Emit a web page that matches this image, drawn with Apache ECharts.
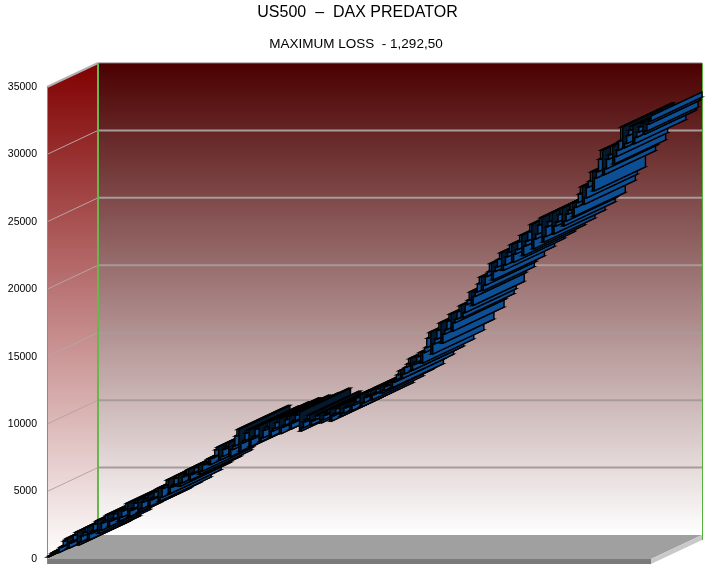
<!DOCTYPE html>
<html>
<head>
<meta charset="utf-8">
<script src="https://cdn.jsdelivr.net/npm/echarts@6/dist/echarts.min.js"></script>
<style>
  html, body { margin: 0; padding: 0; background: #fff; }
  #chart { width: 715px; height: 570px; }
</style>
</head>
<body>
<div id="chart"></div>
<script>
const titleText = 'US500  –  DAX PREDATOR'
const subtitleText = 'MAXIMUM LOSS  - 1,292,50'
const yTicks = [0, 5000, 10000, 15000, 20000, 25000, 30000, 35000]
const equity = [
  150, 260, 440, 500, 600, 480, 840, 950, 1340, 1500,
  800, 1180, 1340, 1760, 1980, 1040, 1260, 1720, 1970, 2340,
  1420, 1880, 2060, 2580, 2820, 1900, 2120, 2680, 2860, 3260,
  2400, 2820, 2980, 3350, 3560, 2800, 3090, 3570, 3720, 4120,
  3150, 3600, 3760, 4150, 4360, 3490, 3710, 4230, 4450, 4730,
  3900, 4390, 4540, 4980, 5210, 4300, 4570, 5240, 5450, 5850,
  4850, 5320, 5490, 5980, 6210, 5400, 5640, 6100, 6280, 6610,
  5850, 6270, 6400, 6770, 6960, 6300, 6520, 6990, 7160, 7410,
  7000, 7460, 7610, 8090, 8290, 7350, 7600, 8130, 8320, 8610,
  7600, 8110, 8380, 9120, 9600, 8000, 8590, 8770, 9340, 9560,
  8350, 8900, 9090, 9640, 9860, 8700, 8980, 9560, 9770, 10160,
  9050, 9490, 9690, 10110, 10360, 9300, 9770, 9930, 10340, 10560,
  9640, 10100, 10260, 10670, 10880, 9490, 9730, 10170, 10350, 10660,
  9930, 10250, 10340, 10610, 10740, 10100, 10320, 10650, 10800, 11060,
  10230, 10620, 10780, 11150, 11330, 10600, 10810, 11210, 11350, 11610,
  11000, 11400, 11590, 11960, 12150, 11300, 11570, 11980, 12160, 12450,
  11800, 12180, 12310, 12620, 12800, 12300, 12490, 12790, 12910, 13100,
  12700, 13100, 13280, 13650, 13950, 13400, 13720, 14220, 14460, 14850,
  14000, 14420, 14600, 15000, 15300, 14530, 15300, 15680, 16370, 16800,
  15200, 15950, 16300, 16950, 17500, 16000, 16680, 17000, 17650, 18150,
  16900, 17510, 17780, 18340, 18780, 17900, 18260, 18860, 19190, 19800,
  18800, 19470, 19790, 20400, 20900, 19900, 20290, 20950, 21300, 21900,
  20700, 21320, 21640, 22220, 22700, 21400, 21790, 22400, 22730, 23300,
  22000, 22610, 22940, 23510, 24000, 22500, 23210, 23580, 24250, 24800,
  23000, 23720, 24090, 24760, 25300, 23500, 23910, 24640, 25020, 25650,
  24100, 24690, 24990, 25540, 26000, 24700, 25050, 25570, 25860, 26360,
  25400, 26080, 26430, 27070, 27600, 26300, 26760, 27560, 28000, 28700,
  27300, 28240, 28720, 29630, 30300, 28500, 28930, 29630, 29980, 30600,
  29300, 29840, 30300, 31000, 32030, 30500, 30800, 31400, 31800, 32100,
  30800, 31260, 31650, 32050, 32300, 31500, 31730, 32240, 32470, 32850
]

// depth of the fake 3d box, in pixels
const depthX = 51
const depthY = -24
const lastIndex = equity.length - 1
const yMax = yTicks[yTicks.length - 1]

function wallGradient(topColor) {
  return new echarts.graphic.LinearGradient(0, 0, 0, 1, [
    { offset: 0, color: topColor },
    { offset: 1, color: '#ffffff' }
  ])
}

function poly(points, style) {
  return { type: 'polygon', shape: { points: points }, style: style, silent: true }
}

function line(a, b, color, width) {
  return {
    type: 'line',
    shape: { x1: a[0], y1: a[1], x2: b[0], y2: b[1] },
    style: { stroke: color, lineWidth: width },
    silent: true
  }
}

function renderBox(params, api) {
  const fb = api.coord([0, 0])
  const ft = api.coord([0, yMax])
  const rb = api.coord([lastIndex, 0])
  const back = p => [p[0] + depthX, p[1] + depthY]
  const rt = api.coord([lastIndex, yMax])
  const items = [
    poly([back(ft), back(rt), back(rb), back(fb)], { fill: wallGradient('#4b0000') }),
    poly([ft, back(ft), back(fb), fb], { fill: wallGradient('#800000') })
  ]
  yTicks.slice(1, -1).forEach(t => {
    const a = api.coord([0, t])
    const b = api.coord([lastIndex, t])
    items.push(line(a, back(a), '#b5a5a5', 1))
    items.push(line(back(a), back(b), '#a89a9a', 2))
  })
  // floor slab
  items.push(poly([fb, rb, back(rb), back(fb)], { fill: '#a0a0a0' }))
  items.push(poly([fb, rb, [rb[0], rb[1] + 5], [fb[0], fb[1] + 5]], { fill: '#7b7b7b' }))
  items.push(poly([rb, back(rb), [rb[0] + depthX, rb[1] + depthY + 5], [rb[0], rb[1] + 5]], { fill: '#c9c9c9' }))
  // frame edges
  const nudge = p => [p[0] + 0.5, p[1]]
  items.push(line(ft, back(ft), '#b0b0b0', 2))
  items.push(line(back(ft), back(rt), '#8a7070', 1))
  items.push(line(nudge(ft), nudge([fb[0], fb[1] + 5]), '#55b03c', 1))
  items.push(line(back(ft), back(fb), '#66b84c', 2))
  items.push(line(nudge(back(rt)), nudge([back(rb)[0], back(rb)[1] + 5]), '#55b03c', 1))
  return { type: 'group', children: items }
}

// stairs: a riser ribbon at the trade, then a flat ribbon up to the next one
function ribbon(a, b, fill) {
  return poly([a, b, [b[0] + depthX, b[1] + depthY], [a[0] + depthX, a[1] + depthY]], {
    fill: fill,
    stroke: '#000000',
    lineWidth: 1.4
  })
}

function renderRibbon(params, api) {
  const i = params.dataIndex
  const here = api.coord([i, equity[i]])
  const children = []
  if (i > 0) {
    const from = api.coord([i, equity[i - 1]])
    children.push(ribbon(from, here, equity[i] >= equity[i - 1] ? '#0d4f94' : '#04182e'))
  }
  if (i < lastIndex) {
    children.push(ribbon(here, api.coord([i + 1, equity[i]]), '#05274a'))
  }
  return { type: 'group', children: children }
}

const chart = echarts.init(document.getElementById('chart'))
chart.setOption({
  animation: false,
  backgroundColor: '#ffffff',
  title: [
    {
      text: titleText,
      left: 'center',
      top: 0,
      textStyle: { fontFamily: 'Liberation Sans', fontSize: 16, fontWeight: 'normal', color: '#000' }
    },
    {
      text: subtitleText,
      left: 351,
      textAlign: 'center',
      top: 32,
      textStyle: { fontFamily: 'Liberation Sans', fontSize: 13.5, fontWeight: 'normal', color: '#000' }
    }
  ],
  grid: { left: 47, top: 87, width: 604, height: 472 },
  xAxis: { type: 'value', min: 0, max: lastIndex, show: false },
  yAxis: {
    type: 'value',
    min: 0,
    max: yMax,
    interval: 5000,
    axisLine: { show: false },
    axisTick: { show: false },
    splitLine: { show: false },
    axisLabel: {
      margin: 10,
      fontFamily: 'Liberation Sans',
      fontSize: 10.5,
      color: '#000',
      formatter: v => String(v)
    }
  },
  series: [
    {
      type: 'custom',
      name: 'box',
      clip: false,
      silent: true,
      z: 1,
      renderItem: renderBox,
      data: [[0, 0]]
    },
    {
      type: 'custom',
      name: 'equity',
      clip: false,
      silent: true,
      z: 2,
      progressive: 0,
      renderItem: renderRibbon,
      encode: { x: 0, y: 1 },
      data: equity.map((v, i) => [i, v])
    }
  ]
})
</script>
</body>
</html>
